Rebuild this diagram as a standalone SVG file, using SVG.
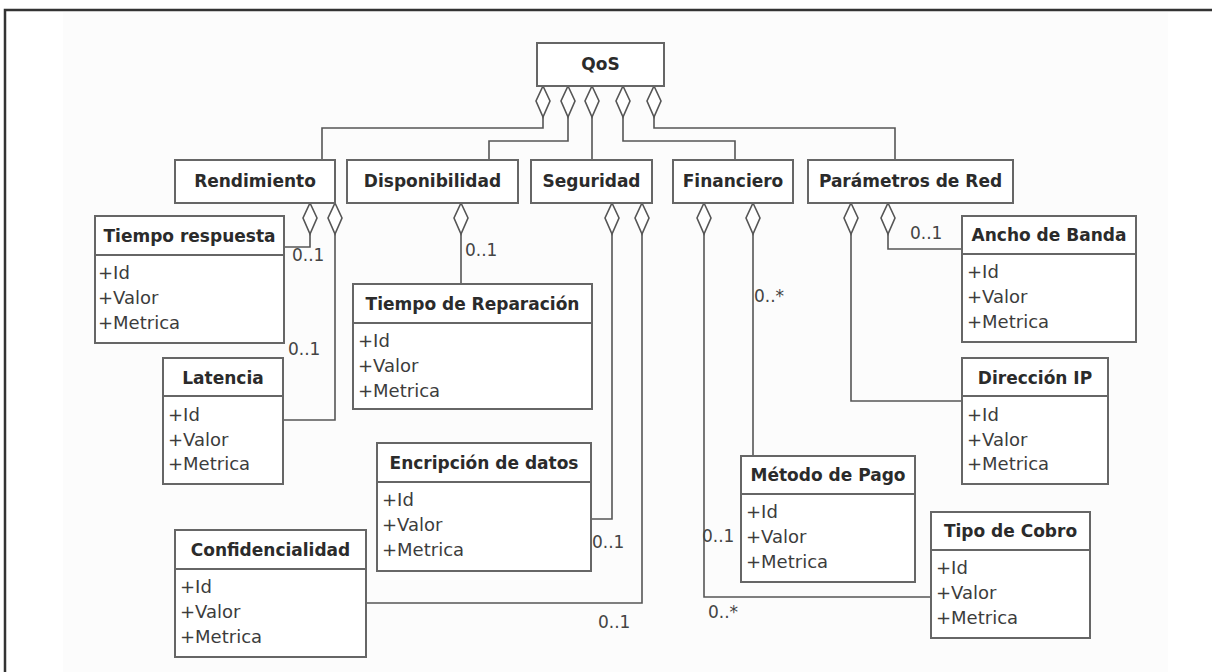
<svg xmlns="http://www.w3.org/2000/svg" width="1212" height="672" viewBox="0 0 1212 672">
<style>
.bx{fill:#fff;stroke:#666;stroke-width:2}
.dv{stroke:#666;stroke-width:2}
.t{font-family:"DejaVu Sans","Liberation Sans",sans-serif;font-weight:bold;font-size:17px;fill:#2b2b2b;text-anchor:middle}
.a{font-family:"DejaVu Sans","Liberation Sans",sans-serif;font-size:18px;fill:#3c3c3c}
.m{font-family:"DejaVu Sans","Liberation Sans",sans-serif;font-size:17px;fill:#444}
.c{fill:none;stroke:#555;stroke-width:1.6;marker-start:url(#dia)}
</style>
<defs>
<marker id="dia" markerUnits="userSpaceOnUse" viewBox="0 0 34 16" markerWidth="34" markerHeight="16" refX="1" refY="8" orient="auto">
<path d="M1,8 L16,1 L32,8 L16,15 Z" fill="#fff" stroke="#555" stroke-width="1.6"/>
</marker>
</defs>
<rect x="0" y="0" width="1212" height="672" fill="#fff"/>
<rect x="63" y="12" width="1105" height="660" fill="#fcfcfc"/>
<path d="M5,672 V10 H1212" fill="none" stroke="#333" stroke-width="2.5"/>

<g id="connectors">
<path class="c" d="M543,86 V128 H322 V160"/>
<path class="c" d="M568,86 V141 H489 V160"/>
<path class="c" d="M592,86 V160"/>
<path class="c" d="M623,86 V141 H735 V160"/>
<path class="c" d="M654,86 V128 H895 V160"/>
<path class="c" d="M310,203 V247 H284"/>
<path class="c" d="M335,203 V420 H283"/>
<path class="c" d="M461,203 V284"/>
<path class="c" d="M612,203 V519 H591"/>
<path class="c" d="M642,203 V603 H366"/>
<path class="c" d="M704,203 V597 H931"/>
<path class="c" d="M753,203 V456"/>
<path class="c" d="M851,203 V401 H962"/>
<path class="c" d="M888,203 V249 H962"/>
</g>

<g id="labels">
<text class="m" x="292" y="261">0..1</text>
<text class="m" x="288" y="355">0..1</text>
<text class="m" x="465" y="256">0..1</text>
<text class="m" x="592" y="548">0..1</text>
<text class="m" x="598" y="628">0..1</text>
<text class="m" x="754" y="302">0..*</text>
<text class="m" x="702" y="542">0..1</text>
<text class="m" x="708" y="618">0..*</text>
<text class="m" x="910" y="239">0..1</text>
</g>

<g id="qos"><rect class="bx" x="537" y="43" width="127" height="43"/><text class="t" x="600.5" y="70">QoS</text></g>
<g id="rendimiento"><rect class="bx" x="175" y="160" width="160" height="43"/><text class="t" x="255" y="187">Rendimiento</text></g>
<g id="disponibilidad"><rect class="bx" x="347" y="160" width="171" height="43"/><text class="t" x="432.5" y="187">Disponibilidad</text></g>
<g id="seguridad"><rect class="bx" x="531" y="160" width="121" height="43"/><text class="t" x="591.5" y="187">Seguridad</text></g>
<g id="financiero"><rect class="bx" x="673" y="160" width="120" height="43"/><text class="t" x="733" y="187">Financiero</text></g>
<g id="parametros"><rect class="bx" x="808" y="160" width="205" height="43"/><text class="t" x="910.5" y="187">Parámetros de Red</text></g>

<g id="tiempo-respuesta"><rect class="bx" x="95" y="216" width="189" height="127"/><line class="dv" x1="95" y1="255" x2="284" y2="255"/><text class="t" x="189.5" y="242">Tiempo respuesta</text><text class="a" x="98" y="279">+Id</text><text class="a" x="98" y="304">+Valor</text><text class="a" x="98" y="329">+Metrica</text></g>
<g id="latencia"><rect class="bx" x="163" y="358" width="120" height="126"/><line class="dv" x1="163" y1="396" x2="283" y2="396"/><text class="t" x="223" y="384">Latencia</text><text class="a" x="168" y="421">+Id</text><text class="a" x="168" y="446">+Valor</text><text class="a" x="168" y="470">+Metrica</text></g>
<g id="tiempo-reparacion"><rect class="bx" x="353" y="284" width="239" height="125"/><line class="dv" x1="353" y1="323" x2="592" y2="323"/><text class="t" x="472.5" y="310">Tiempo de Reparación</text><text class="a" x="358" y="347">+Id</text><text class="a" x="358" y="372">+Valor</text><text class="a" x="358" y="397">+Metrica</text></g>
<g id="encripcion"><rect class="bx" x="377" y="443" width="214" height="128"/><line class="dv" x1="377" y1="482" x2="591" y2="482"/><text class="t" x="484" y="469">Encripción de datos</text><text class="a" x="382" y="506">+Id</text><text class="a" x="382" y="531">+Valor</text><text class="a" x="382" y="556">+Metrica</text></g>
<g id="confidencialidad"><rect class="bx" x="175" y="530" width="191" height="127"/><line class="dv" x1="175" y1="569" x2="366" y2="569"/><text class="t" x="270.5" y="556">Confidencialidad</text><text class="a" x="180" y="593">+Id</text><text class="a" x="180" y="618">+Valor</text><text class="a" x="180" y="643">+Metrica</text></g>
<g id="metodo-pago"><rect class="bx" x="741" y="456" width="174" height="126"/><line class="dv" x1="741" y1="494" x2="915" y2="494"/><text class="t" x="828" y="481">Método de Pago</text><text class="a" x="746" y="518">+Id</text><text class="a" x="746" y="543">+Valor</text><text class="a" x="746" y="568">+Metrica</text></g>
<g id="tipo-cobro"><rect class="bx" x="931" y="512" width="159" height="126"/><line class="dv" x1="931" y1="550" x2="1090" y2="550"/><text class="t" x="1010.5" y="537">Tipo de Cobro</text><text class="a" x="936" y="574">+Id</text><text class="a" x="936" y="599">+Valor</text><text class="a" x="936" y="624">+Metrica</text></g>
<g id="ancho-banda"><rect class="bx" x="962" y="216" width="174" height="126"/><line class="dv" x1="962" y1="254" x2="1136" y2="254"/><text class="t" x="1049" y="241">Ancho de Banda</text><text class="a" x="967" y="278">+Id</text><text class="a" x="967" y="303">+Valor</text><text class="a" x="967" y="328">+Metrica</text></g>
<g id="direccion-ip"><rect class="bx" x="962" y="358" width="146" height="126"/><line class="dv" x1="962" y1="396" x2="1108" y2="396"/><text class="t" x="1035" y="384">Dirección IP</text><text class="a" x="967" y="421">+Id</text><text class="a" x="967" y="446">+Valor</text><text class="a" x="967" y="470">+Metrica</text></g>
</svg>
